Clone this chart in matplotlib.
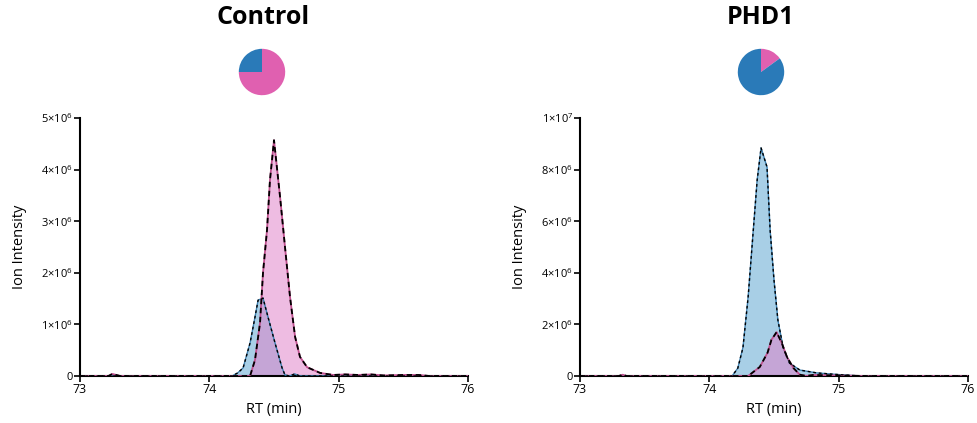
import matplotlib
matplotlib.use("Agg")
import matplotlib.pyplot as plt

# ---------------- data (intensities in units of 1e6) ----------------
ctrl_blue_rt = [73.0, 74.10, 74.176, 74.22, 74.261, 74.315, 74.353, 74.377, 74.415, 74.454, 74.508, 74.562, 74.585, 74.62, 74.66, 74.70, 74.74, 76.0]
ctrl_blue_int = [0.0, 0.0, 0.0, 0.06, 0.155, 0.64, 1.14, 1.47, 1.51, 1.14, 0.64, 0.16, 0.02, 0.0, 0.04, 0.0, 0.0, 0.0]
ctrl_pink_rt = [73.0, 73.22, 73.25, 73.28, 73.31, 74.28, 74.315, 74.353, 74.392, 74.415, 74.446, 74.469, 74.50, 74.547, 74.585, 74.624, 74.663, 74.701, 74.756, 74.856, 74.957, 75.05, 75.15, 75.25, 75.35, 75.5, 75.62, 75.7, 76.0]
ctrl_pink_int = [0.0, 0.0, 0.04, 0.02, 0.0, 0.0, 0.0, 0.31, 1.03, 2.0, 2.83, 3.8, 4.57, 3.47, 2.5, 1.53, 0.76, 0.37, 0.17, 0.06, 0.02, 0.03, 0.02, 0.03, 0.01, 0.02, 0.02, 0.0, 0.0]

phd_blue_rt = [73.0, 74.12, 74.176, 74.22, 74.26, 74.30, 74.34, 74.37, 74.40, 74.446, 74.47, 74.50, 74.53, 74.57, 74.62, 74.70, 74.83, 75.01, 75.17, 76.0]
phd_blue_int = [0.0, 0.0, 0.0, 0.3, 1.1, 3.06, 5.66, 7.6, 8.84, 8.1, 5.66, 3.72, 2.17, 1.12, 0.5, 0.23, 0.12, 0.05, 0.0, 0.0]
phd_pink_rt = [73.0, 73.3, 73.33, 73.36, 74.30, 74.39, 74.45, 74.48, 74.52, 74.56, 74.60, 74.65, 74.70, 74.75, 74.80, 75.2, 75.25, 76.0]
phd_pink_int = [0.0, 0.0, 0.05, 0.0, 0.0, 0.35, 0.9, 1.4, 1.7, 1.28, 0.74, 0.31, 0.05, 0.0, 0.04, 0.0, 0.0, 0.0]

ctrl_pie = [75, 25]   # pink, blue (%)
phd_pie = [15, 85]    # pink, blue (%)

titles = ["Control", "PHD1"]
x_ticks = [73, 74, 75, 76]
ctrl_yticks = [0, 1, 2, 3, 4, 5]
ctrl_ylabels = ["0", r"1×10$^{6}$", r"2×10$^{6}$", r"3×10$^{6}$", r"4×10$^{6}$", r"5×10$^{6}$"]
phd_yticks = [0, 2, 4, 6, 8, 10]
phd_ylabels = ["0", r"2×10$^{6}$", r"4×10$^{6}$", r"6×10$^{6}$", r"8×10$^{6}$", r"1×10$^{7}$"]

# ---------------- style ----------------
plt.rcParams['font.family'] = ['Open Sans', 'DejaVu Sans']
plt.rcParams['mathtext.fontset'] = 'custom'
plt.rcParams['mathtext.rm'] = 'Open Sans'

BLUE_FILL = '#a8cfe6'
PINK_FILL = '#e080c8'
BLUE_LINE = '#3a7fb0'
PINK_LINE = '#c0508f'
PIE_BLUE = '#2a7ab8'
PIE_PINK = '#e060b0'

fig = plt.figure(figsize=(9.78, 4.23), dpi=100)

panels = [
    dict(left=80, right=468, title_x=263, pie_x=262, blue=(ctrl_blue_rt, ctrl_blue_int),
         pink=(ctrl_pink_rt, ctrl_pink_int), ymax=5, yt=ctrl_yticks, yl=ctrl_ylabels, pie=ctrl_pie),
    dict(left=580, right=968, title_x=761, pie_x=761, blue=(phd_blue_rt, phd_blue_int),
         pink=(phd_pink_rt, phd_pink_int), ymax=10, yt=phd_yticks, yl=phd_ylabels, pie=phd_pie),
]

W, H = 978, 423
for i, p in enumerate(panels):
    ax = fig.add_axes([p['left'] / W, 1 - 376 / H, (p['right'] - p['left']) / W, (376 - 118) / H])
    brt, bint = p['blue']
    prt, pint = p['pink']
    ax.fill_between(brt, bint, 0, color=BLUE_FILL, alpha=1.0, lw=0, zorder=1)
    ax.fill_between(prt, pint, 0, color=PINK_FILL, alpha=0.52, lw=0, zorder=2)
    ax.plot(brt, bint, color=BLUE_LINE, lw=1.0, zorder=3)
    ax.plot(brt, bint, color='black', lw=1.0, ls=(0, (2, 2)), zorder=4)
    ax.plot(prt, pint, color=PINK_LINE, lw=1.3, zorder=3)
    ax.plot(prt, pint, color='black', lw=1.3, ls=(0, (3, 2)), zorder=4)

    ax.set_xlim(73, 76)
    ax.set_ylim(0, p['ymax'])
    ax.set_xticks(x_ticks)
    ax.set_xticklabels([str(t) for t in x_ticks], fontsize=9)
    ax.set_yticks(p['yt'])
    ax.set_yticklabels(p['yl'], fontsize=8)
    ax.spines['top'].set_visible(False)
    ax.spines['right'].set_visible(False)
    ax.spines['left'].set_linewidth(1.5)
    ax.spines['bottom'].set_linewidth(1.5)
    ax.tick_params(axis='both', direction='out', length=4, width=1.2, pad=1)
    ax.set_ylabel('Ion Intensity', fontsize=10.5, labelpad=10)
    ax.set_xlabel('RT (min)', fontsize=10.5, labelpad=4)
    ax.set_facecolor('none')

    fig.text(p['title_x'] / W, 1 - 18 / H, titles[i], ha='center', va='center',
             fontsize=18, fontweight='bold')

    r = 29
    pax = fig.add_axes([(p['pie_x'] - r) / W, 1 - (72 + r) / H, 2 * r / W, 2 * r / H])
    pax.pie(p['pie'], colors=[PIE_PINK, PIE_BLUE], startangle=90, counterclock=False,
            wedgeprops=dict(linewidth=0))
    pax.set_aspect('auto')
    pax.axis('off')

fig.savefig('out.png', dpi=100)
